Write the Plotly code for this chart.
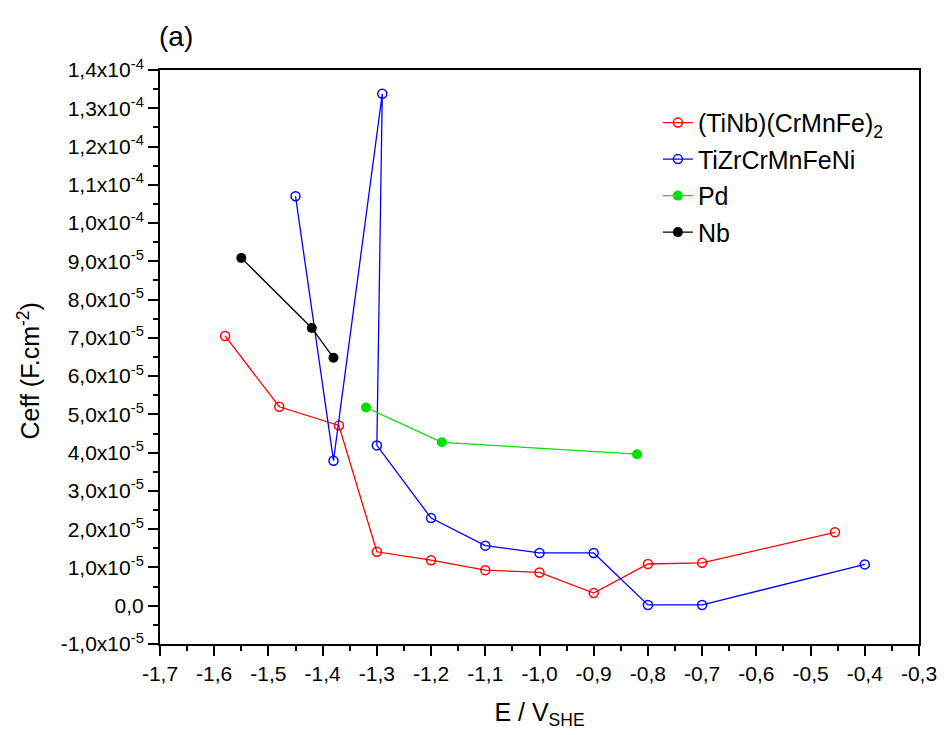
import plotly.graph_objects as go

# ---------------- data ----------------
x_tinb = [-1.58, -1.48, -1.37, -1.30, -1.20, -1.10, -1.00, -0.90, -0.80, -0.70, -0.455]
y_tinb = [7.05e-5, 5.20e-5, 4.71e-5, 1.41e-5, 1.19e-5, 0.93e-5, 0.87e-5, 0.33e-5, 1.09e-5, 1.12e-5, 1.92e-5]

x_tizr = [-1.45, -1.38, -1.29, -1.30, -1.20, -1.10, -1.00, -0.90, -0.80, -0.70, -0.40]
y_tizr = [10.7e-5, 3.79e-5, 13.38e-5, 4.19e-5, 2.29e-5, 1.57e-5, 1.38e-5, 1.38e-5, 0.02e-5, 0.02e-5, 1.08e-5]

x_pd = [-1.32, -1.18, -0.82]
y_pd = [5.18e-5, 4.27e-5, 3.96e-5]

x_nb = [-1.55, -1.42, -1.38]
y_nb = [9.09e-5, 7.26e-5, 6.48e-5]

series_names = ["(TiNb)(CrMnFe)<sub>2</sub>", "TiZrCrMnFeNi", "Pd", "Nb"]

x_tickvals = [-1.7, -1.6, -1.5, -1.4, -1.3, -1.2, -1.1, -1.0, -0.9, -0.8, -0.7, -0.6, -0.5, -0.4, -0.3]
x_ticktext = ["-1,7", "-1,6", "-1,5", "-1,4", "-1,3", "-1,2", "-1,1", "-1,0", "-0,9", "-0,8",
              "-0,7", "-0,6", "-0,5", "-0,4", "-0,3"]

y_tickvals = [-1e-5, 0, 1e-5, 2e-5, 3e-5, 4e-5, 5e-5, 6e-5, 7e-5, 8e-5, 9e-5,
              1.0e-4, 1.1e-4, 1.2e-4, 1.3e-4, 1.4e-4]
y_ticktext = ["-1,0x10<sup>-5</sup>", "0,0", "1,0x10<sup>-5</sup>", "2,0x10<sup>-5</sup>",
              "3,0x10<sup>-5</sup>", "4,0x10<sup>-5</sup>", "5,0x10<sup>-5</sup>", "6,0x10<sup>-5</sup>",
              "7,0x10<sup>-5</sup>", "8,0x10<sup>-5</sup>", "9,0x10<sup>-5</sup>", "1,0x10<sup>-4</sup>",
              "1,1x10<sup>-4</sup>", "1,2x10<sup>-4</sup>", "1,3x10<sup>-4</sup>", "1,4x10<sup>-4</sup>"]

FONT = "Liberation Sans, Arial, sans-serif"

fig = go.Figure()
fig.add_trace(go.Scatter(x=x_tinb, y=y_tinb, mode="lines+markers", name=series_names[0], legendgroup="g1",
                         line=dict(color="#ff0000", width=1.3),
                         marker=dict(symbol="circle-open", size=9, color="#ff0000", line=dict(width=1.5))))
fig.add_trace(go.Scatter(x=x_tizr, y=y_tizr, mode="lines+markers", name=series_names[1], legendgroup="g2",
                         line=dict(color="#0000ff", width=1.3),
                         marker=dict(symbol="circle-open", size=9, color="#0000ff", line=dict(width=1.5))))
fig.add_trace(go.Scatter(x=x_pd, y=y_pd, mode="lines+markers", name=series_names[2], legendgroup="g3",
                         line=dict(color="#00e000", width=1.3),
                         marker=dict(symbol="circle", size=10, color="#00e000")))
fig.add_trace(go.Scatter(x=x_nb, y=y_nb, mode="lines+markers", name=series_names[3], legendgroup="g4",
                         line=dict(color="#000000", width=1.3),
                         marker=dict(symbol="circle", size=10, color="#000000")))

axis_common = dict(showgrid=False, zeroline=False, showline=True, linecolor="black", linewidth=2,
                   mirror=True, ticks="outside", ticklen=10, tickwidth=2, tickcolor="black",
                   tickfont=dict(family=FONT, size=21, color="black"))

fig.update_xaxes(range=[-1.7, -0.3], tickmode="array", tickvals=x_tickvals, ticktext=x_ticktext,
                 minor=dict(tickmode="linear", tick0=-1.7, dtick=0.05, ticks="outside", ticklen=5,
                            tickwidth=2, tickcolor="black"),
                 title=dict(text="E / V<sub>SHE</sub>", font=dict(family=FONT, size=25, color="black"),
                            standoff=19),
                 **axis_common)
fig.update_yaxes(range=[-1e-5, 1.4e-4], tickmode="array", tickvals=y_tickvals, ticktext=y_ticktext,
                 minor=dict(tickmode="linear", tick0=0, dtick=5e-6, ticks="outside", ticklen=5,
                            tickwidth=2, tickcolor="black"),
                 **axis_common)

fig.update_layout(
    width=949, height=735,
    margin=dict(l=160, r=22, t=70, b=91),
    paper_bgcolor="white", plot_bgcolor="white",
    font=dict(family=FONT, color="black"),
    showlegend=True,
    legend=dict(x=0.656, y=0.948, xanchor="left", yanchor="top", bgcolor="rgba(0,0,0,0)",
                borderwidth=0, font=dict(family=FONT, size=25, color="black"), tracegroupgap=1),
    annotations=[
        dict(text="(a)", x=-0.004, y=1.059, xref="paper", yref="paper", xanchor="left",
             yanchor="middle", showarrow=False, font=dict(family=FONT, size=28, color="black")),
        dict(text="Ceff (F.cm<sup>-2</sup>)", x=-0.173, y=0.476, xref="paper", yref="paper",
             xanchor="center", yanchor="middle", textangle=-90, showarrow=False,
             font=dict(family=FONT, size=25, color="black")),
    ],
)

fig.write_html("out.html")
